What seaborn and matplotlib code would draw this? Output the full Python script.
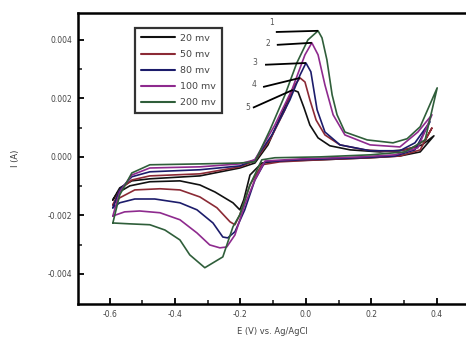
import numpy as np
import pandas as pd
import matplotlib
matplotlib.use("Agg")
import matplotlib.pyplot as plt
import seaborn as sns

# ---- data (potential in V, current in mA) ----
labels = ["20 mv", "50 mv", "80 mv", "100 mv", "200 mv"]
colors = ["#111111", "#8b2a35", "#1c1c6b", "#8e2a8e", "#2f5e3a"]

E1 = [-0.590, -0.569, -0.532, -0.477, -0.324, -0.202, -0.156, -0.116, -0.080, -0.055, -0.040, -0.024,
      -0.006, 0.012, 0.037, 0.073, 0.135, 0.226, 0.303, 0.355, 0.391,
      0.349, 0.287, 0.196, 0.043, -0.080, -0.135, -0.171, -0.190, -0.202, -0.223, -0.278, -0.324,
      -0.385, -0.477, -0.538, -0.575, -0.590]
I1 = [-1.47, -1.06, -0.82, -0.75, -0.65, -0.38, -0.21, 0.41, 1.33, 1.95, 2.29, 2.22,
      1.68, 1.09, 0.65, 0.38, 0.24, 0.17, 0.24, 0.41, 0.72,
      0.17, 0.03, -0.03, -0.10, -0.14, -0.21, -0.62, -1.47, -1.81, -1.57, -1.20, -0.96,
      -0.82, -0.85, -0.99, -1.23, -1.47]

E2 = [-0.590, -0.569, -0.532, -0.477, -0.324, -0.202, -0.156, -0.110, -0.064, -0.034, -0.018, -0.003,
      0.012, 0.031, 0.058, 0.104, 0.180, 0.272, 0.333, 0.364, 0.385,
      0.349, 0.287, 0.196, 0.043, -0.080, -0.135, -0.171, -0.202, -0.217, -0.232, -0.272, -0.324,
      -0.385, -0.446, -0.523, -0.569, -0.590]
I2 = [-1.64, -1.13, -0.79, -0.65, -0.58, -0.34, -0.14, 0.58, 1.61, 2.46, 2.70, 2.56,
      1.95, 1.26, 0.75, 0.41, 0.24, 0.17, 0.34, 0.58, 0.99,
      0.24, 0.03, -0.03, -0.10, -0.17, -0.27, -0.96, -1.98, -2.32, -2.22, -1.74, -1.37,
      -1.13, -1.09, -1.13, -1.40, -1.64]

E3 = [-0.590, -0.569, -0.532, -0.477, -0.324, -0.202, -0.156, -0.104, -0.049, -0.018, 0.000, 0.015,
      0.034, 0.058, 0.104, 0.196, 0.287, 0.333, 0.379,
      0.333, 0.272, 0.165, -0.018, -0.125, -0.156, -0.187, -0.217, -0.239, -0.254, -0.284, -0.333,
      -0.385, -0.462, -0.523, -0.569, -0.590]
I3 = [-1.74, -1.13, -0.68, -0.51, -0.44, -0.31, -0.10, 0.75, 1.95, 2.80, 3.21, 2.91,
      1.61, 0.85, 0.41, 0.21, 0.21, 0.48, 1.20,
      0.24, 0.03, -0.03, -0.10, -0.17, -0.79, -1.81, -2.56, -2.77, -2.74, -2.26, -1.81,
      -1.57, -1.44, -1.44, -1.57, -1.74]

E4 = [-0.590, -0.569, -0.532, -0.477, -0.324, -0.202, -0.156, -0.095, -0.043, -0.003, 0.018, 0.037,
      0.058, 0.083, 0.119, 0.196, 0.287, 0.342, 0.385,
      0.342, 0.272, 0.165, -0.018, -0.125, -0.156, -0.187, -0.217, -0.242, -0.263, -0.294, -0.333,
      -0.385, -0.446, -0.508, -0.554, -0.590]
I4 = [-2.02, -1.20, -0.62, -0.38, -0.34, -0.24, -0.10, 1.09, 2.29, 3.49, 3.90, 3.49,
      2.46, 1.44, 0.75, 0.41, 0.34, 0.85, 1.44,
      0.31, 0.07, 0.00, -0.07, -0.14, -0.79, -1.64, -2.67, -3.08, -3.11, -3.01, -2.60,
      -2.15, -1.91, -1.85, -1.88, -2.02]

E5 = [-0.590, -0.569, -0.532, -0.477, -0.324, -0.202, -0.156, -0.110, -0.064, -0.028, 0.006, 0.037,
      0.049, 0.064, 0.080, 0.095, 0.119, 0.187, 0.266, 0.309, 0.349, 0.401,
      0.364, 0.303, 0.196, 0.043, -0.095, -0.135, -0.171, -0.202, -0.223, -0.254, -0.309, -0.355,
      -0.385, -0.431, -0.477, -0.538, -0.590]
I5 = [-2.26, -1.30, -0.55, -0.27, -0.24, -0.21, -0.17, 0.92, 2.12, 3.21, 4.00, 4.31,
      4.07, 3.32, 2.12, 1.44, 0.85, 0.58, 0.48, 0.62, 1.03, 2.36,
      0.58, 0.17, 0.07, 0.00, -0.03, -0.10, -0.96, -1.98, -2.39, -3.42, -3.79, -3.35,
      -2.84, -2.50, -2.32, -2.29, -2.26]

peak_tags = ["5", "4", "3", "2", "1"]  # tag drawn at each curve's anodic peak

xticks = [-0.6, -0.4, -0.2, 0.0, 0.2, 0.4]
yticks = [0.004, 0.002, 0.000, -0.002, -0.004]

# ---- build long table ----
frames = []
for lab, E, I in zip(labels, [E1, E2, E3, E4, E5], [I1, I2, I3, I4, I5]):
    frames.append(pd.DataFrame({"E": E, "I": np.array(I) / 1000.0, "rate": lab,
                                "order": np.arange(len(E))}))
df = pd.concat(frames, ignore_index=True)

sns.set_style("ticks")
plt.rcParams["font.family"] = ["DejaVu Sans"]

fig = plt.figure(figsize=(4.66, 3.38), dpi=100)
ax = fig.add_axes([0.167, 0.1006, 0.833, 0.861])

sns.lineplot(data=df, x="E", y="I", hue="rate", hue_order=labels, palette=colors,
             sort=False, estimator=None, units="rate", lw=1.2, ax=ax, legend=True)

# leader lines & tags at anodic peaks
text_pos = {"1": (-0.104, 0.00458), "2": (-0.116, 0.00386), "3": (-0.156, 0.00321),
            "4": (-0.159, 0.00246), "5": (-0.177, 0.00168)}
start_pos = {"1": (-0.092, 0.00427), "2": (-0.089, 0.00383), "3": (-0.125, 0.00315),
             "4": (-0.131, 0.00239), "5": (-0.162, 0.00168)}
for lab, tag in zip(labels, peak_tags):
    sub = df[df["rate"] == lab]
    k = sub["I"].idxmax()
    px, py = sub.loc[k, "E"], sub.loc[k, "I"]
    sx, sy = start_pos[tag]
    ax.plot([sx, px], [sy, py], color="black", lw=1.3, solid_capstyle="butt")
    tx, ty = text_pos[tag]
    ax.text(tx, ty, tag, fontsize=5.5, color="#555555", ha="center", va="center")

ax.set_xlim(-0.697, 0.489)
ax.set_ylim(-0.00503, 0.00492)
ax.set_xticks(xticks)
ax.set_xticklabels([f"{v:.1f}" for v in xticks])
ax.set_yticks(yticks)
ax.set_yticklabels([f"{v:.3f}" for v in yticks])
ax.set_xticks([-0.5, -0.3, -0.1, 0.1, 0.3], minor=True)
ax.set_yticks([0.003, 0.001, -0.001, -0.003], minor=True)
ax.tick_params(axis="both", which="major", direction="in", length=4, width=1.3,
               labelsize=5.5, colors="black", labelcolor="#444444", pad=4)
ax.tick_params(axis="both", which="minor", direction="in", length=3, width=1.2)
ax.tick_params(top=False, right=False, which="both")

for s in ["left", "bottom", "top"]:
    ax.spines[s].set_linewidth(1.8)
    ax.spines[s].set_color("black")
ax.spines["right"].set_visible(False)

ax.set_xlabel("E (V) vs. Ag/AgCl", fontsize=6, color="#444444", labelpad=6)
ax.set_ylabel("I (A)", fontsize=6, color="#333333", labelpad=20)

leg = ax.legend(loc="upper left", bbox_to_anchor=(0.147, 0.948), fontsize=6.8,
                frameon=True, fancybox=False, handlelength=3.7, labelspacing=0.75,
                borderpad=0.6, handletextpad=0.5, borderaxespad=0, title=None)
leg.get_frame().set_edgecolor("black")
leg.get_frame().set_linewidth(1.6)
for t in leg.get_texts():
    t.set_color("#444444")
for h in leg.get_lines():
    h.set_linewidth(1.5)

fig.savefig("out.png", dpi=100)
